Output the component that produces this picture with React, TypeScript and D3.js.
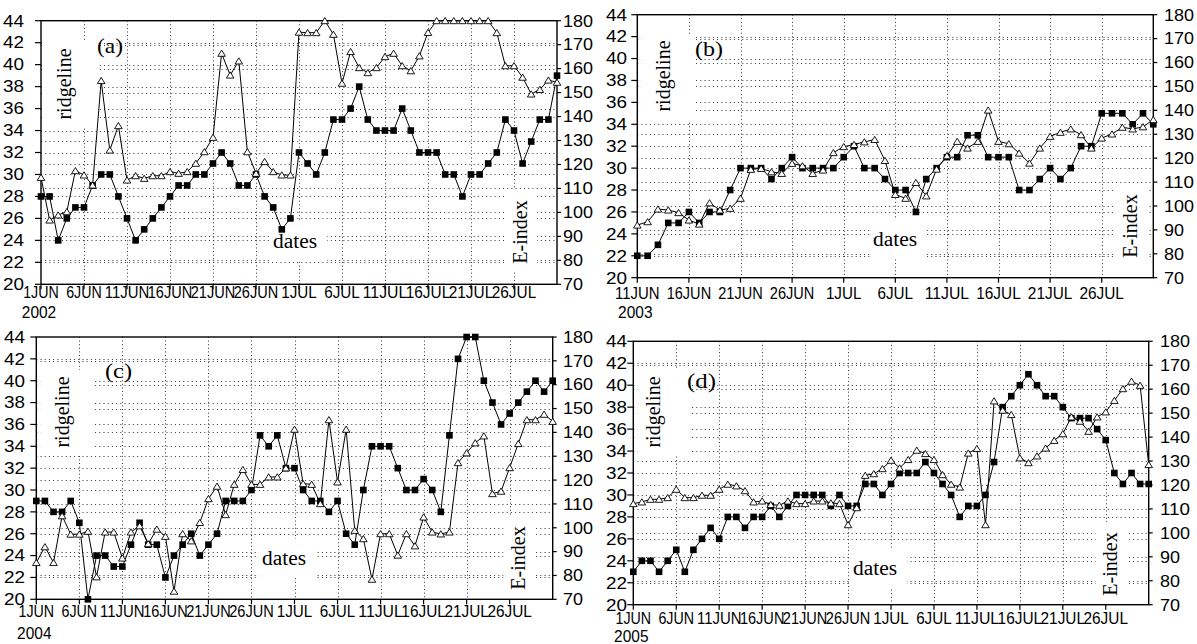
import React from 'react';
import * as d3 from 'd3';

// ---------- data (one value per day) ----------
// (a) 2002, 1 JUN - 31 JUL
const ridgeA = [28, 28, 24, 26, 27, 27, 29, 30, 30, 28, 26, 24, 25, 26, 27, 28, 29, 29, 30, 30, 31, 32, 31, 29, 29, 30, 28, 27, 25, 26, 32,
  31, 30, 32, 35, 35, 36, 38, 35, 34, 34, 34, 36, 34, 32, 32, 32, 30, 30, 28, 30, 30, 31, 32, 35, 34, 31, 33, 35, 35, 39];
const eIndexA = [114.6, 96.8, 98.9, 100.3, 117.4, 115.6, 111.4, 155, 126, 136.2, 113.5, 115.3, 114.2, 115.3, 115.3, 117, 116.3, 117, 120.5, 125.3, 131.3, 166.4, 157.3, 163.2, 125.3, 116.3, 121.2, 117, 115.6, 115.6, 175.2,
  175, 175, 180, 174.3, 153.9, 167.1, 160.4, 158.3, 160.4, 165, 166.4, 161.2, 159.1, 165.3, 175.1, 180, 180, 180, 180, 180, 180, 180, 175, 161.2, 161.2, 156.4, 149.4, 151.3, 155.2, 154.3];
// (b) 2003, 11 JUN - 31 JUL
const ridgeB = [22, 22, 23, 25, 25, 26, 25, 26, 26, 28, 30, 30, 30, 29, 30, 31, 30, 30, 30, 30, 31, 32, 30, 30, 29, 28,
  28, 26, 29, 30, 31, 31, 33, 33, 31, 31, 31, 28, 28, 29, 30, 29, 30, 32, 32, 35, 35, 35, 34, 35, 34];
const eIndexB = [92, 93.4, 98.7, 98.3, 97.2, 94.1, 92.4, 101.3, 98.3, 99, 103.2, 115.3, 115.7, 114.3, 113.6, 117.8, 116.8, 113.6, 115, 122.3, 124.8, 125.7, 126.8, 127.8, 119, 104.8,
  103.2, 109.8, 104.2, 115.4, 121, 127, 124.2, 127, 140.1, 127, 126, 122.1, 117.9, 124.2, 129.1, 130.8, 132.2, 129.8, 124.2, 128.4, 130.1, 132.9, 132.2, 133.1, 136.1];
// (c) 2004, 1 JUN - 31 JUL
const ridgeC = [29, 29, 28, 28, 29, 27, 20, 24, 24, 23, 23, 25, 27, 25, 25, 22, 24, 25, 26, 24, 25, 26, 29, 29, 29, 30, 35, 34, 35, 32, 32,
  30, 29, 29, 28, 29, 26, 25, 30, 34, 34, 34, 32, 30, 30, 31, 30, 28, 35, 42, 44, 44, 40, 38, 36, 37, 38, 39, 40, 39, 40];
const eIndexC = [85.4, 92, 85.4, 105, 97.3, 97.3, 98.5, 79.4, 98.2, 98.2, 87.3, 98.2, 100.8, 93.3, 99.4, 96.4, 73.4, 97.5, 94.5, 102.2, 112.2, 117.4, 105.5, 118.2, 124.4, 118.2, 118.2, 121.3, 121.3, 125.1, 141.3,
  118.5, 118.2, 110.1, 145.3, 119.2, 141.3, 98.9, 95.4, 78.4, 97.5, 97.5, 88.5, 97.5, 92.4, 104.5, 98.2, 97.4, 98.2, 127.3, 131.4, 135.6, 138.5, 114.3, 115.3, 125.2, 135.3, 145.3, 145.3, 147.6, 144.6];
// (d) 2005, 1 JUN - 31 JUL
const ridgeD = [23, 24, 24, 23, 24, 25, 23, 25, 26, 27, 26, 28, 28, 27, 28, 28, 29, 28, 29, 30, 30, 30, 30, 29, 30, 29, 29, 31, 31, 30, 31,
  32, 32, 32, 33, 32, 31, 30, 28, 29, 29, 30, 33, 38, 39, 40, 41, 40, 39, 39, 38, 37, 37, 37, 36, 35, 32, 31, 32, 31, 31];
const eIndexD = [112.2, 112.9, 114, 114, 114.7, 118.2, 114.7, 114.7, 115.7, 115.7, 118.2, 120.3, 119.6, 117.6, 112.9, 113.3, 111.8, 111.5, 113.3, 112.2, 112.2, 113.3, 113.3, 112.5, 112.2, 103.4, 110.5, 124, 124.7, 126.8, 130.3,
  127.1, 130.6, 134.5, 133.1, 130.6, 124.3, 120.3, 119.1, 133.3, 135.2, 103.4, 155.1, 151.2, 149.4, 131.3, 129.3, 132.1, 135.4, 138.6, 141.4, 148.4, 146.6, 142.4, 148.4, 150.5, 155.3, 160.2, 163.3, 161.6, 128.5];

const leftTicks = [20, 22, 24, 26, 28, 30, 32, 34, 36, 38, 40, 42, 44];
const rightTicks = [70, 80, 90, 100, 110, 120, 130, 140, 150, 160, 170, 180];
const datesFromJun1 = ['1JUN', '6JUN', '11JUN', '16JUN', '21JUN', '26JUN', '1JUL', '6JUL', '11JUL', '16JUL', '21JUL', '26JUL'];
const datesFromJun11 = ['11JUN', '16JUN', '21JUN', '26JUN', '1JUL', '6JUL', '11JUL', '16JUL', '21JUL', '26JUL'];
const years = ['2002', '2003', '2004', '2005'];
const tags = ['(a)', '(b)', '(c)', '(d)'];

type Cfg = {
  ridge: number[]; eidx: number[]; dates: string[]; year: string; tag: string;
  x0: number; x1: number; y0: number; y1: number;
  leftLabelRight: number; rightLabelLeft: number; dateBase: number; yearBase: number;
  tagPos: [number, number]; tagW: number; ridgePos: [number, number]; datesPos: [number, number]; ePos: [number, number];
};

const panels: Cfg[] = [
  { ridge: ridgeA, eidx: eIndexA, dates: datesFromJun1, year: years[0], tag: tags[0],
    x0: 41, x1: 557, y0: 20.7, y1: 284.3, leftLabelRight: 24, rightLabelLeft: 563, dateBase: 298, yearBase: 318,
    tagPos: [97, 53], tagW: 26, ridgePos: [66, 84], datesPos: [273, 248], ePos: [520, 232] },
  { ridge: ridgeB, eidx: eIndexB, dates: datesFromJun11, year: years[1], tag: tags[1],
    x0: 637.3, x1: 1153.3, y0: 14.7, y1: 277.7, leftLabelRight: 627, rightLabelLeft: 1164, dateBase: 299, yearBase: 318,
    tagPos: [695, 56], tagW: 28, ridgePos: [665.5, 76], datesPos: [873, 246], ePos: [1130, 226] },
  { ridge: ridgeC, eidx: eIndexC, dates: datesFromJun1, year: years[2], tag: tags[2],
    x0: 36.3, x1: 552.7, y0: 337, y1: 599.3, leftLabelRight: 25, rightLabelLeft: 563, dateBase: 617, yearBase: 639,
    tagPos: [105, 378], tagW: 27, ridgePos: [64.5, 412], datesPos: [262, 565], ePos: [518.5, 558] },
  { ridge: ridgeD, eidx: eIndexD, dates: datesFromJun1, year: years[3], tag: tags[3],
    x0: 633.3, x1: 1148.7, y0: 341.3, y1: 604.7, leftLabelRight: 627, rightLabelLeft: 1160, dateBase: 624, yearBase: 642,
    tagPos: [687, 388], tagW: 29, ridgePos: [655.5, 412], datesPos: [853, 575], ePos: [1110.5, 564] },
];

const SANS = "'Liberation Sans', Arial, Helvetica, sans-serif";
const SERIF = "'Liberation Serif', 'Times New Roman', Times, serif";
const GRID = '#333';

function SText(props: { x: number; y: number; text: string; cw: number; size: number; anchor: 'start' | 'middle' | 'end' }) {
  const { x, y, text, cw, size, anchor } = props;
  const w = cw * text.length;
  const sx = anchor === 'middle' ? x - w / 2 : anchor === 'end' ? x - w : x;
  return (
    <text x={sx} y={y} textLength={w} lengthAdjust="spacingAndGlyphs" fontSize={size} fontFamily={SANS} fill="#000">
      {text}
    </text>
  );
}

function Panel({ p }: { p: Cfg }) {
  const n = p.ridge.length - 1;
  const x = d3.scaleLinear().domain([0, n]).range([p.x0, p.x1]);
  const yL = d3.scaleLinear().domain([20, 44]).range([p.y1, p.y0]);
  const yR = d3.scaleLinear().domain([70, 180]).range([p.y1, p.y0]);
  const lineL = d3.line<number>().x((_, i) => x(i)).y((d) => yL(d));
  const lineR = d3.line<number>().x((_, i) => x(i)).y((d) => yR(d));
  const tickDays = p.dates.map((_, i) => i * 5);
  const px = (v: number) => Math.round(v) + 0.5;
  const tri = (cx: number, cy: number) => `M${cx},${cy - 3.2}L${cx + 3.8},${cy + 3}L${cx - 3.8},${cy + 3}Z`;

  const [rx, ry] = p.ridgePos;
  const [dx, dy] = p.datesPos;
  const [ex, ey] = p.ePos;

  return (
    <g>
      {/* dotted grid */}
      {tickDays.filter((d) => d > 0).map((d) => (
        <line key={'v' + d} x1={px(x(d))} x2={px(x(d))} y1={p.y0} y2={p.y1} stroke={GRID} strokeWidth={1} strokeDasharray="1 2.6" />
      ))}
      {leftTicks.filter((v) => v > 20 && v < 44).map((v) => (
        <line key={'hl' + v} x1={p.x0} x2={p.x1} y1={px(yL(v))} y2={px(yL(v))} stroke={GRID} strokeWidth={1} strokeDasharray="1 3.2" />
      ))}
      {rightTicks.filter((v) => v > 70 && v < 180).map((v) => (
        <line key={'hr' + v} x1={p.x0} x2={p.x1} y1={px(yR(v))} y2={px(yR(v))} stroke={GRID} strokeWidth={1} strokeDasharray="1 3.2" />
      ))}

      {/* label backgrounds */}
      <rect x={p.x0 + 4} y={ry - 42} width={54} height={86} fill="#fff" />
      <rect x={dx - 3} y={dy - 26} width={57} height={39} fill="#fff" />
      <rect x={ex - 15} y={ey - 42} width={32} height={82} fill="#fff" />

      {/* frame */}
      <rect x={p.x0} y={p.y0} width={p.x1 - p.x0} height={p.y1 - p.y0} fill="none" stroke="#000" strokeWidth={1.4} />

      {/* axis ticks */}
      {leftTicks.map((v) => (
        <line key={'lt' + v} x1={p.x0 - 6} x2={p.x0} y1={yL(v)} y2={yL(v)} stroke="#000" strokeWidth={1.2} />
      ))}
      {rightTicks.map((v) => (
        <line key={'rt' + v} x1={p.x1} x2={p.x1 + 4} y1={yR(v)} y2={yR(v)} stroke="#000" strokeWidth={1.2} />
      ))}
      {tickDays.map((d) => (
        <line key={'bt' + d} x1={x(d)} x2={x(d)} y1={p.y1} y2={p.y1 + 5} stroke="#000" strokeWidth={1.2} />
      ))}

      {/* tick labels */}
      {leftTicks.map((v) => (
        <SText key={'ll' + v} x={p.leftLabelRight} y={yL(v) + 5.8} text={String(v)} cw={10.5} size={16.5} anchor="end" />
      ))}
      {rightTicks.map((v) => (
        <SText key={'rl' + v} x={p.rightLabelLeft} y={yR(v) + 5.8} text={String(v)} cw={10} size={16.5} anchor="start" />
      ))}
      {p.dates.map((s, i) => (
        <SText key={'dl' + i} x={x(tickDays[i])} y={p.dateBase} text={s} cw={8.9} size={16.5} anchor="middle" />
      ))}
      <SText x={x(0) - 2} y={p.yearBase} text={p.year} cw={8.6} size={16.5} anchor="middle" />

      {/* series: ridgeline (filled squares, left axis) */}
      <path d={lineL(p.ridge) || ''} fill="none" stroke="#000" strokeWidth={1} />
      {p.ridge.map((v, i) => (
        <rect key={'sq' + i} x={x(i) - 3.3} y={yL(v) - 3.3} width={6.6} height={6.6} fill="#000" />
      ))}
      {/* series: E-index (open triangles, right axis) */}
      <path d={lineR(p.eidx) || ''} fill="none" stroke="#000" strokeWidth={1} />
      {p.eidx.map((v, i) => (
        <path key={'tr' + i} d={tri(x(i), yR(v))} fill="#fff" stroke="#000" strokeWidth={0.9} />
      ))}

      {/* text labels */}
      <text x={p.tagPos[0]} y={p.tagPos[1]} fontFamily={SERIF} fontSize={21} textLength={p.tagW} lengthAdjust="spacingAndGlyphs">{p.tag}</text>
      <text transform={`translate(${rx},${ry}) rotate(-90)`} textAnchor="middle" dy={4.6} fontFamily={SERIF} fontSize={20}>ridgeline</text>
      <text x={dx} y={dy} fontFamily={SERIF} fontSize={20} textLength={44} lengthAdjust="spacingAndGlyphs">dates</text>
      <text transform={`translate(${ex},${ey}) rotate(-90)`} textAnchor="middle" dy={6.7} fontFamily={SERIF} fontSize={20}>E-index</text>
    </g>
  );
}

export default function App() {
  return (
    <svg width={1197} height={644} style={{ position: 'absolute', left: 0, top: 0, background: '#fff' }}>
      <rect x={0} y={0} width={1197} height={644} fill="#fff" />
      {panels.map((p, i) => (
        <Panel key={i} p={p} />
      ))}
    </svg>
  );
}
